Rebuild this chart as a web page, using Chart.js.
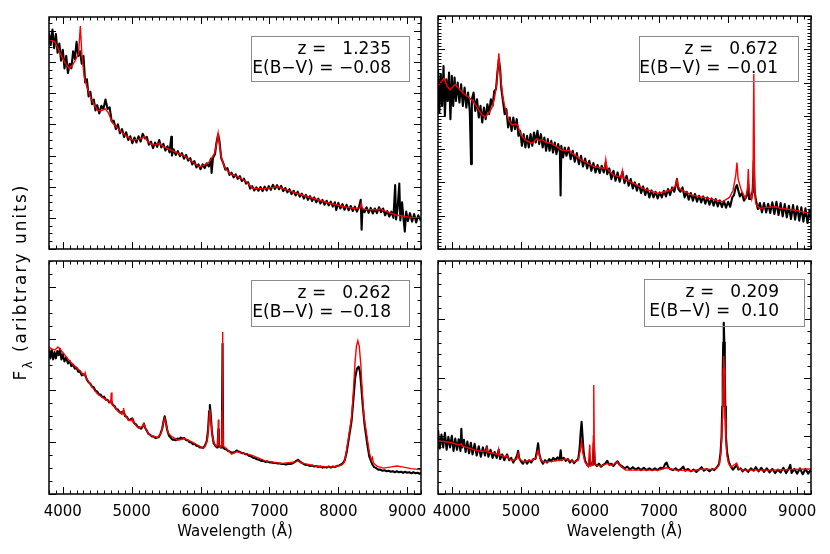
<!DOCTYPE html>
<html>
<head>
<meta charset="utf-8">
<script src="https://cdn.jsdelivr.net/npm/chart.js@4/dist/chart.umd.min.js"></script>
<style>
  body { margin: 0; background: #fff; }
  #wrap { position: relative; width: 830px; height: 554px; }
  canvas { position: absolute; left: 0; top: 0; }
</style>
</head>
<body>
<div id="wrap">
  <canvas id="c1" width="830" height="554"></canvas>
  <canvas id="c2" width="830" height="554"></canvas>
  <canvas id="c3" width="830" height="554"></canvas>
  <canvas id="c4" width="830" height="554"></canvas>
</div>
<script>
// tick labels + fit parameters shown in the boxes
const xTickLabels = [4000, 5000, 6000, 7000, 8000, 9000]
const redshifts = ['1.235', '0.672', '0.262', '0.209']
const reddening = ['−0.08', '−0.01', '−0.18', ' 0.10']
const yTop = [7.45, 7, 4.5, 4]
const yMinorStep = [0.25, 0.1, 0.25, 0.2]

// z = 1.235 : observed spectrum [wavelength, flux]
const specTL = [[3800,6.95],[3825,6.55],[3850,7.05],[3875,6.45],[3900,6.9],[3925,6.3],[3950,6.6],[3975,6.05],[4000,6.4],[4025,5.8],[4050,6.2],[4075,5.65],[4100,5.95],[4125,5.8],[4150,6.35],[4175,6.1],[4200,6.65],[4225,6.2],[4250,6.35],[4275,5.95],[4300,6.2],[4325,5.35],[4350,5.45],[4375,4.9],[4400,5.05],[4425,4.65],[4450,4.8],[4475,4.45],[4500,4.62],[4530,4.35],[4560,4.6],[4590,4.5],[4620,4.8],[4650,4.5],[4680,4.55],[4710,4.1],[4740,4.12],[4770,3.85],[4800,4.0],[4830,3.72],[4860,3.85],[4890,3.6],[4920,3.75],[4950,3.5],[4980,3.62],[5010,3.4],[5040,3.58],[5070,3.42],[5100,3.62],[5130,3.45],[5160,3.7],[5190,3.55],[5220,3.6],[5250,3.35],[5280,3.45],[5310,3.24],[5340,3.42],[5370,3.28],[5400,3.5],[5430,3.26],[5460,3.38],[5490,3.16],[5520,3.3],[5550,3.1],[5575,3.6],[5585,3.0],[5610,3.2],[5640,3.02],[5670,3.14],[5700,2.98],[5730,3.08],[5760,2.9],[5790,3.02],[5820,2.84],[5850,2.92],[5880,2.72],[5910,2.82],[5940,2.62],[5970,2.72],[6000,2.56],[6030,2.72],[6060,2.6],[6090,2.75],[6120,2.65],[6150,2.9],[6160,2.44],[6180,2.92],[6210,3.05],[6230,3.4],[6255,3.68],[6275,3.45],[6300,2.92],[6330,2.76],[6360,2.55],[6390,2.6],[6420,2.38],[6450,2.45],[6480,2.3],[6510,2.4],[6540,2.25],[6570,2.34],[6600,2.18],[6630,2.26],[6660,2.1],[6690,2.15],[6720,1.94],[6750,2.02],[6780,1.88],[6810,1.98],[6840,1.87],[6870,1.99],[6900,1.86],[6930,2.0],[6960,1.88],[6990,2.02],[7020,1.9],[7050,2.06],[7080,1.93],[7110,2.05],[7140,1.92],[7170,2.03],[7200,1.86],[7230,1.96],[7260,1.82],[7290,1.92],[7320,1.76],[7350,1.87],[7380,1.72],[7410,1.84],[7440,1.68],[7470,1.78],[7500,1.62],[7530,1.74],[7560,1.58],[7590,1.7],[7620,1.54],[7650,1.66],[7680,1.5],[7710,1.62],[7740,1.46],[7770,1.58],[7800,1.42],[7830,1.55],[7860,1.4],[7890,1.52],[7920,1.36],[7950,1.5],[7970,1.25],[8000,1.48],[8030,1.3],[8060,1.44],[8090,1.26],[8120,1.42],[8150,1.24],[8180,1.38],[8210,1.22],[8240,1.36],[8270,1.2],[8300,1.35],[8325,1.58],[8338,0.62],[8350,1.3],[8380,1.18],[8410,1.34],[8440,1.16],[8470,1.32],[8500,1.14],[8530,1.3],[8560,1.15],[8590,1.34],[8620,1.18],[8650,1.3],[8680,1.08],[8710,1.22],[8740,1.04],[8770,1.2],[8800,1.0],[8825,2.05],[8838,0.95],[8860,1.3],[8885,2.1],[8900,0.92],[8925,1.5],[8945,1.0],[8965,0.56],[8985,1.2],[9010,0.9],[9040,1.15],[9070,0.88],[9100,1.12],[9130,0.85],[9160,1.08],[9200,0.9]]
// z = 1.235 : fitted model
const modelTL = [[3800,6.72],[3840,6.7],[3883,6.66],[3940,6.4],[3997,6.12],[4050,5.92],[4094,5.8],[4140,5.9],[4192,6.1],[4230,6.3],[4255,7.16],[4278,6.2],[4312,5.53],[4350,5.2],[4409,4.84],[4460,4.62],[4505,4.46],[4560,4.44],[4617,4.5],[4660,4.38],[4724,4.04],[4800,3.88],[4869,3.72],[4940,3.6],[5014,3.5],[5100,3.52],[5150,3.56],[5184,3.62],[5230,3.46],[5305,3.34],[5360,3.35],[5403,3.4],[5450,3.3],[5548,3.2],[5680,3.06],[5790,2.96],[5880,2.8],[5983,2.64],[6060,2.7],[6129,2.8],[6202,3.07],[6230,3.35],[6255,3.72],[6275,3.35],[6300,2.96],[6350,2.62],[6420,2.43],[6540,2.32],[6662,2.16],[6759,1.95],[6904,1.93],[7020,1.97],[7122,2.0],[7250,1.9],[7389,1.79],[7630,1.63],[7873,1.47],[8116,1.34],[8250,1.3],[8315,1.32],[8334,1.47],[8350,1.29],[8400,1.27],[8580,1.26],[8610,1.3],[8640,1.25],[8842,1.09],[9000,1.03],[9200,0.98]]

// z = 0.672
const specTR = [[3800,5.4],[3820,4.1],[3840,5.25],[3860,4.3],[3880,5.5],[3900,4.0],[3920,5.1],[3940,4.45],[3960,5.3],[3980,3.9],[4000,5.2],[4020,4.3],[4040,5.15],[4060,4.45],[4085,5.0],[4110,4.4],[4135,4.95],[4160,4.3],[4185,4.85],[4210,4.25],[4235,4.7],[4260,4.15],[4279,2.55],[4290,4.5],[4315,4.7],[4340,4.15],[4365,4.5],[4390,3.95],[4415,4.3],[4440,3.8],[4465,4.25],[4490,3.9],[4515,4.35],[4540,4.05],[4565,4.5],[4590,4.3],[4615,4.75],[4640,4.8],[4660,5.3],[4681,5.7],[4700,5.4],[4715,4.85],[4740,4.45],[4765,4.05],[4790,4.2],[4815,3.65],[4840,3.95],[4865,3.55],[4890,3.95],[4915,3.6],[4940,3.9],[4965,3.4],[4990,3.55],[5015,3.1],[5040,3.45],[5065,3.05],[5090,3.4],[5115,3.05],[5140,3.45],[5165,3.1],[5190,3.5],[5215,3.2],[5240,3.55],[5265,3.15],[5290,3.45],[5315,3.05],[5340,3.35],[5365,2.95],[5390,3.3],[5415,2.95],[5440,3.25],[5465,2.9],[5490,3.2],[5515,2.85],[5540,3.15],[5565,2.9],[5575,1.61],[5585,3.1],[5610,2.75],[5635,3.05],[5660,2.8],[5690,3.05],[5720,2.7],[5750,2.95],[5780,2.62],[5810,2.88],[5840,2.55],[5870,2.8],[5900,2.48],[5930,2.72],[5960,2.42],[5990,2.65],[6020,2.35],[6050,2.58],[6080,2.3],[6110,2.52],[6140,2.28],[6170,2.5],[6200,2.3],[6229,2.6],[6250,2.25],[6280,2.42],[6310,2.1],[6340,2.35],[6370,2.05],[6400,2.3],[6430,2.02],[6470,2.32],[6500,1.98],[6530,2.2],[6560,1.9],[6590,2.1],[6620,1.82],[6650,2.0],[6680,1.75],[6710,1.95],[6740,1.68],[6770,1.88],[6800,1.62],[6830,1.82],[6860,1.55],[6890,1.76],[6920,1.55],[6950,1.72],[6980,1.52],[7010,1.7],[7040,1.55],[7070,1.75],[7100,1.58],[7130,1.8],[7160,1.62],[7190,1.85],[7220,1.72],[7240,1.9],[7259,2.1],[7280,1.8],[7310,1.72],[7340,1.85],[7370,1.55],[7400,1.72],[7430,1.48],[7460,1.68],[7490,1.45],[7520,1.65],[7550,1.42],[7580,1.6],[7610,1.4],[7640,1.58],[7670,1.36],[7700,1.55],[7730,1.33],[7760,1.52],[7790,1.3],[7820,1.5],[7850,1.28],[7880,1.46],[7910,1.26],[7940,1.44],[7970,1.24],[8000,1.42],[8030,1.27],[8060,1.55],[8085,1.62],[8110,1.85],[8128,1.92],[8145,1.78],[8170,1.58],[8200,1.68],[8230,1.45],[8260,1.55],[8280,1.65],[8292,1.95],[8305,1.5],[8335,1.5],[8355,1.75],[8372,2.65],[8385,1.7],[8405,1.45],[8430,1.2],[8460,1.38],[8490,1.1],[8520,1.38],[8550,1.1],[8580,1.36],[8610,1.08],[8640,1.4],[8670,1.05],[8700,1.42],[8730,1.02],[8760,1.38],[8790,0.98],[8820,1.35],[8850,0.95],[8880,1.3],[8910,0.9],[8940,1.32],[8970,0.88],[9000,1.28],[9030,0.85],[9060,1.25],[9090,0.82],[9120,1.22],[9150,0.78],[9180,1.18],[9200,0.9]]
const modelTR = [[3800,4.9],[3840,5.0],[3887,5.13],[3930,4.9],[3975,4.78],[4048,4.95],[4100,4.82],[4170,4.67],[4250,4.55],[4316,4.42],[4400,4.15],[4440,4.02],[4487,3.97],[4540,4.1],[4586,4.27],[4620,4.55],[4647,4.92],[4665,5.4],[4681,5.88],[4693,5.45],[4714,5.02],[4737,4.6],[4762,4.32],[4824,3.87],[4872,3.72],[4922,3.76],[4955,3.72],[4995,3.45],[5065,3.27],[5160,3.17],[5232,3.32],[5266,3.25],[5303,3.29],[5365,3.2],[5447,3.17],[5590,2.97],[5668,2.95],[5697,2.98],[5738,2.88],[5880,2.67],[6072,2.47],[6212,2.42],[6229,2.69],[6245,2.42],[6340,2.22],[6452,2.15],[6470,2.35],[6486,2.12],[6633,1.97],[6800,1.79],[6990,1.67],[7180,1.78],[7240,1.9],[7259,2.07],[7278,1.88],[7310,1.79],[7480,1.62],[7720,1.52],[7915,1.42],[8020,1.55],[8070,1.75],[8110,2.2],[8128,2.6],[8145,2.1],[8190,1.77],[8250,1.52],[8280,1.8],[8292,2.4],[8305,1.75],[8340,1.5],[8360,1.9],[8372,5.26],[8384,1.8],[8400,1.37],[8455,1.22],[8560,1.25],[8695,1.27],[8760,1.22],[8890,1.19],[9200,1.07]]

// z = 0.262
const specBL = [[3800,2.8],[3820,2.62],[3840,2.78],[3860,2.6],[3880,2.74],[3900,2.62],[3920,2.76],[3940,2.68],[3960,2.8],[3980,2.6],[4000,2.7],[4025,2.56],[4050,2.64],[4075,2.52],[4100,2.57],[4125,2.47],[4150,2.5],[4175,2.42],[4200,2.44],[4225,2.36],[4250,2.37],[4275,2.29],[4300,2.31],[4324,2.3],[4350,2.21],[4375,2.16],[4400,2.13],[4425,2.07],[4450,2.06],[4475,1.99],[4500,1.98],[4525,1.92],[4550,1.92],[4575,1.87],[4600,1.88],[4625,1.82],[4650,1.82],[4675,1.77],[4704,1.8],[4725,1.72],[4750,1.7],[4775,1.64],[4800,1.63],[4825,1.58],[4850,1.57],[4883,1.6],[4905,1.5],[4930,1.49],[4955,1.43],[4980,1.44],[5010,1.46],[5035,1.37],[5060,1.35],[5085,1.3],[5110,1.29],[5135,1.26],[5160,1.3],[5177,1.36],[5195,1.28],[5220,1.22],[5245,1.16],[5270,1.14],[5295,1.11],[5320,1.11],[5345,1.08],[5370,1.09],[5395,1.1],[5420,1.17],[5445,1.27],[5465,1.42],[5479,1.5],[5495,1.4],[5515,1.24],[5540,1.13],[5565,1.09],[5590,1.05],[5615,1.05],[5640,1.04],[5665,1.07],[5690,1.06],[5715,1.09],[5740,1.07],[5765,1.08],[5790,1.04],[5815,1.04],[5840,1.0],[5865,1.0],[5890,0.96],[5915,0.97],[5940,0.93],[5965,0.93],[5990,0.9],[6015,0.9],[6040,0.89],[6065,0.94],[6090,1.02],[6110,1.25],[6125,1.6],[6135,1.72],[6147,1.55],[6165,1.2],[6190,0.98],[6215,0.93],[6240,0.9],[6250,1.0],[6258,1.25],[6266,0.95],[6290,0.9],[6310,0.9],[6319,2.9],[6328,0.9],[6350,0.87],[6375,0.86],[6400,0.83],[6425,0.82],[6450,0.8],[6475,0.8],[6500,0.81],[6525,0.84],[6550,0.82],[6575,0.81],[6600,0.79],[6625,0.79],[6650,0.77],[6675,0.77],[6700,0.74],[6730,0.73],[6760,0.7],[6790,0.69],[6820,0.67],[6850,0.66],[6880,0.64],[6910,0.64],[6940,0.62],[6970,0.63],[7000,0.61],[7030,0.61],[7060,0.6],[7090,0.6],[7120,0.59],[7150,0.59],[7180,0.58],[7210,0.58],[7240,0.57],[7270,0.58],[7300,0.58],[7330,0.59],[7360,0.61],[7390,0.64],[7415,0.66],[7440,0.63],[7470,0.6],[7500,0.58],[7530,0.56],[7560,0.56],[7590,0.54],[7620,0.55],[7650,0.53],[7680,0.54],[7710,0.52],[7740,0.53],[7770,0.51],[7800,0.52],[7830,0.51],[7860,0.53],[7890,0.51],[7920,0.53],[7950,0.52],[7980,0.54],[8010,0.55],[8040,0.57],[8070,0.6],[8095,0.66],[8120,0.8],[8150,1.05],[8193,1.42],[8220,1.85],[8245,2.25],[8270,2.42],[8295,2.46],[8315,2.35],[8335,2.05],[8355,1.7],[8380,1.35],[8416,1.0],[8450,0.72],[8490,0.58],[8520,0.52],[8550,0.5],[8580,0.47],[8610,0.47],[8640,0.45],[8670,0.46],[8700,0.44],[8730,0.45],[8760,0.43],[8790,0.44],[8820,0.42],[8850,0.44],[8880,0.42],[8910,0.43],[8940,0.41],[8970,0.43],[9000,0.41],[9030,0.42],[9060,0.4],[9090,0.42],[9120,0.4],[9150,0.41],[9180,0.39],[9200,0.41]]
const modelBL = [[3800,2.84],[3840,2.8],[3887,2.78],[3930,2.84],[3960,2.8],[4009,2.72],[4080,2.6],[4155,2.49],[4250,2.38],[4310,2.29],[4324,2.34],[4340,2.24],[4420,2.08],[4498,1.94],[4580,1.86],[4644,1.81],[4695,1.76],[4704,1.96],[4714,1.74],[4800,1.6],[4860,1.54],[4875,1.6],[4883,1.66],[4892,1.55],[4960,1.42],[5000,1.42],[5010,1.45],[5025,1.38],[5100,1.27],[5150,1.3],[5177,1.36],[5205,1.25],[5260,1.14],[5380,1.09],[5430,1.18],[5460,1.38],[5479,1.46],[5500,1.35],[5530,1.18],[5571,1.12],[5669,1.04],[5766,1.07],[5850,1.02],[5912,0.98],[6035,0.88],[6070,0.93],[6100,1.05],[6120,1.4],[6135,1.63],[6150,1.42],[6170,1.12],[6200,0.97],[6235,0.92],[6250,0.98],[6258,1.44],[6266,0.96],[6290,0.9],[6308,0.95],[6314,1.6],[6319,3.13],[6324,1.6],[6330,0.92],[6376,0.88],[6450,0.77],[6530,0.82],[6571,0.8],[6650,0.78],[6742,0.75],[6937,0.64],[7182,0.59],[7380,0.62],[7415,0.64],[7460,0.6],[7669,0.54],[7914,0.52],[8050,0.56],[8090,0.62],[8120,0.85],[8150,1.11],[8193,1.49],[8220,2.0],[8240,2.5],[8262,2.85],[8283,2.96],[8304,2.85],[8326,2.5],[8346,2.0],[8373,1.49],[8416,1.11],[8450,0.8],[8480,0.66],[8495,0.7],[8510,0.6],[8560,0.54],[8650,0.5],[8750,0.52],[8850,0.54],[8950,0.52],[9050,0.49],[9200,0.47]]

// z = 0.209
const specBR = [[3800,1.1],[3825,0.78],[3850,1.02],[3875,0.8],[3900,1.05],[3925,0.76],[3950,0.98],[3975,0.8],[4000,1.0],[4025,0.74],[4050,0.95],[4075,0.76],[4100,0.94],[4125,0.74],[4138,1.12],[4150,0.8],[4175,0.93],[4200,0.72],[4225,0.9],[4250,0.7],[4275,0.88],[4300,0.68],[4330,0.86],[4360,0.66],[4390,0.82],[4420,0.64],[4450,0.8],[4480,0.66],[4506,0.82],[4530,0.64],[4560,0.76],[4590,0.62],[4620,0.72],[4650,0.62],[4678,0.76],[4700,0.6],[4730,0.68],[4760,0.58],[4800,0.68],[4830,0.58],[4860,0.62],[4890,0.54],[4920,0.6],[4945,0.66],[4960,0.74],[4975,0.62],[5000,0.56],[5030,0.52],[5060,0.58],[5090,0.52],[5120,0.58],[5150,0.54],[5180,0.6],[5210,0.6],[5230,0.72],[5249,0.87],[5265,0.7],[5290,0.58],[5320,0.52],[5350,0.58],[5380,0.54],[5410,0.6],[5440,0.56],[5470,0.62],[5500,0.58],[5530,0.63],[5560,0.58],[5576,0.75],[5590,0.58],[5620,0.62],[5650,0.57],[5680,0.6],[5710,0.54],[5740,0.58],[5770,0.53],[5800,0.57],[5830,0.6],[5850,0.78],[5865,1.05],[5879,1.24],[5892,1.0],[5910,0.7],[5930,0.57],[5960,0.5],[5980,0.48],[5997,0.6],[6015,0.5],[6040,0.5],[6055,0.88],[6070,0.52],[6100,0.48],[6130,0.52],[6160,0.47],[6190,0.5],[6220,0.52],[6250,0.57],[6280,0.5],[6310,0.52],[6340,0.48],[6370,0.53],[6400,0.56],[6430,0.5],[6460,0.48],[6500,0.44],[6540,0.47],[6580,0.42],[6620,0.46],[6660,0.42],[6700,0.45],[6740,0.41],[6780,0.45],[6820,0.41],[6860,0.44],[6900,0.41],[6940,0.44],[6980,0.41],[7020,0.45],[7060,0.44],[7090,0.52],[7110,0.54],[7130,0.47],[7160,0.43],[7200,0.41],[7240,0.44],[7280,0.4],[7320,0.43],[7350,0.47],[7380,0.4],[7420,0.43],[7460,0.39],[7500,0.42],[7540,0.38],[7580,0.42],[7617,0.46],[7650,0.4],[7690,0.43],[7730,0.39],[7770,0.43],[7800,0.41],[7840,0.46],[7870,0.52],[7890,0.7],[7905,0.98],[7915,1.5],[7922,2.1],[7929,2.6],[7937,2.94],[7945,2.6],[7952,2.1],[7959,1.5],[7969,0.98],[7985,0.72],[8010,0.55],[8040,0.47],[8070,0.42],[8100,0.46],[8124,0.5],[8150,0.42],[8180,0.44],[8210,0.39],[8250,0.43],[8290,0.38],[8330,0.44],[8370,0.4],[8400,0.46],[8440,0.39],[8480,0.45],[8520,0.38],[8560,0.44],[8600,0.37],[8640,0.43],[8680,0.36],[8720,0.42],[8760,0.37],[8800,0.45],[8840,0.36],[8880,0.44],[8900,0.5],[8920,0.36],[8960,0.43],[9000,0.35],[9040,0.44],[9080,0.34],[9120,0.43],[9160,0.35],[9200,0.42]]
const modelBR = [[3800,0.91],[3900,0.9],[4000,0.88],[4100,0.84],[4138,0.86],[4150,0.82],[4250,0.79],[4341,0.75],[4450,0.73],[4495,0.74],[4506,0.82],[4518,0.72],[4600,0.7],[4668,0.68],[4678,0.76],[4690,0.67],[4760,0.64],[4800,0.66],[4830,0.6],[4873,0.58],[4940,0.6],[4960,0.7],[4980,0.6],[5042,0.55],[5100,0.57],[5164,0.58],[5220,0.62],[5240,0.72],[5249,0.75],[5260,0.7],[5290,0.58],[5332,0.55],[5454,0.56],[5550,0.58],[5647,0.6],[5768,0.55],[5830,0.58],[5860,0.75],[5879,0.9],[5895,0.72],[5928,0.55],[5976,0.47],[5997,0.85],[6010,0.48],[6040,0.5],[6050,1.0],[6055,1.87],[6062,0.9],[6075,0.5],[6090,0.5],[6150,0.48],[6249,0.52],[6320,0.49],[6394,0.55],[6450,0.47],[6518,0.41],[6800,0.41],[7000,0.41],[7104,0.45],[7250,0.41],[7484,0.4],[7617,0.43],[7774,0.42],[7840,0.45],[7870,0.5],[7890,0.65],[7905,0.9],[7915,1.3],[7922,1.75],[7929,2.15],[7937,2.37],[7945,2.15],[7952,1.75],[7959,1.3],[7969,0.9],[7985,0.65],[8010,0.52],[8040,0.46],[8124,0.53],[8150,0.44],[8208,0.41],[8600,0.41],[8930,0.42],[9200,0.43]]

const font = '"DejaVu Sans", sans-serif'

const panels = [
    { canvas: 'c1', spec: specTL, model: modelTL, pad: { left: 49, top: 17, right: 409, bottom: 305 }, box: [251, 36, 158, 45], textRight: 391 },
    { canvas: 'c2', spec: specTR, model: modelTR, pad: { left: 438, top: 16, right: 19, bottom: 305 }, box: [639, 36, 159, 45], textRight: 778 },
    { canvas: 'c3', spec: specBL, model: modelBL, pad: { left: 49, top: 261, right: 409, bottom: 60 }, box: [251, 280, 158, 46], textRight: 391, xLabels: true, yTitle: true },
    { canvas: 'c4', spec: specBR, model: modelBR, pad: { left: 438, top: 261, right: 19, bottom: 60 }, box: [644, 279, 160, 47], textRight: 779, xLabels: true }
]

function seg(ctx, x1, y1, x2, y2) {
    ctx.beginPath()
    ctx.moveTo(x1, y1)
    ctx.lineTo(x2, y2)
    ctx.stroke()
}

// frame, inward ticks, labels and the fit box
const idlAxes = {
    id: 'idlAxes',
    afterDraw(chart, args, o) {
        const { ctx, chartArea: a } = chart
        const x = chart.scales.x
        const y = chart.scales.y
        ctx.save()
        ctx.strokeStyle = '#000'
        ctx.lineWidth = 1

        for (let v = 3800; v <= 9200; v += 100) {
            const px = Math.round(x.getPixelForValue(v)) + 0.5
            const len = v % 1000 === 0 ? 7 : 3.5
            seg(ctx, px, a.bottom, px, a.bottom - len)
            seg(ctx, px, a.top, px, a.top + len)
        }
        const step = yMinorStep[o.idx]
        for (let i = 0; i * step <= yTop[o.idx] + 1e-9; i++) {
            const v = i * step
            const py = Math.round(y.getPixelForValue(v)) + 0.5
            const len = Math.abs(v - Math.round(v)) < 1e-6 ? 7 : 3.5
            seg(ctx, a.left, py, a.left + len, py)
            seg(ctx, a.right, py, a.right - len, py)
        }

        ctx.lineWidth = 1.5
        ctx.strokeRect(a.left, a.top, a.right - a.left, a.bottom - a.top)

        ctx.fillStyle = '#000'
        if (o.xLabels) {
            ctx.font = '15px ' + font
            ctx.textAlign = 'center'
            ctx.textBaseline = 'middle'
            xTickLabels.forEach(v => ctx.fillText(String(v), x.getPixelForValue(v), 512))
            ctx.fillText('Wavelength (Å)', (a.left + a.right) / 2, 532)
        }

        if (o.yTitle) {
            ctx.save()
            ctx.translate(26, 282)
            ctx.rotate(-Math.PI / 2)
            ctx.textBaseline = 'alphabetic'
            ctx.textAlign = 'left'
            ctx.letterSpacing = '2px'
            ctx.font = '17px ' + font
            const rest = ' (aribtrary units)'
            const wF = ctx.measureText('F').width
            ctx.font = '12px ' + font
            const wL = ctx.measureText('λ').width
            ctx.font = '17px ' + font
            const wR = ctx.measureText(rest).width
            let cx = -(wF + wL + wR) / 2
            ctx.fillText('F', cx, 0)
            cx += wF
            ctx.font = '12px ' + font
            ctx.fillText('λ', cx, 6)
            cx += wL
            ctx.font = '17px ' + font
            ctx.fillText(rest, cx, 0)
            ctx.restore()
        }

        const [bx, by, bw, bh] = o.box
        ctx.strokeStyle = '#8a8a8a'
        ctx.lineWidth = 1
        ctx.strokeRect(bx + 0.5, by + 0.5, bw, bh)
        ctx.font = '17px ' + font
        ctx.textAlign = 'right'
        ctx.textBaseline = 'alphabetic'
        ctx.fillText('z =   ' + redshifts[o.idx], o.textRight, by + 18)
        ctx.fillText('E(B−V) = ' + reddening[o.idx], o.textRight, by + 36.5)
        ctx.restore()
    }
}

panels.forEach((p, i) => {
    new Chart(document.getElementById(p.canvas), {
        type: 'line',
        data: {
            datasets: [
                {
                    data: p.model.map(d => ({ x: d[0], y: d[1] })),
                    borderColor: '#ff0000',
                    borderWidth: 1.4,
                    pointRadius: 0,
                    tension: 0,
                    clip: 0,
                    order: 0
                },
                {
                    data: p.spec.map(d => ({ x: d[0], y: d[1] })),
                    borderColor: '#000000',
                    borderWidth: 2.1,
                    borderJoinStyle: 'round',
                    pointRadius: 0,
                    tension: 0,
                    clip: 0,
                    order: 1
                }
            ]
        },
        options: {
            responsive: false,
            animation: false,
            events: [],
            devicePixelRatio: 1,
            layout: { padding: p.pad },
            scales: {
                x: { type: 'linear', min: 3800, max: 9200, display: false },
                y: { type: 'linear', min: 0, max: yTop[i], display: false }
            },
            plugins: {
                legend: { display: false },
                tooltip: { enabled: false },
                idlAxes: { idx: i, box: p.box, textRight: p.textRight, xLabels: !!p.xLabels, yTitle: !!p.yTitle }
            }
        },
        plugins: [idlAxes]
    })
})
</script>
</body>
</html>
